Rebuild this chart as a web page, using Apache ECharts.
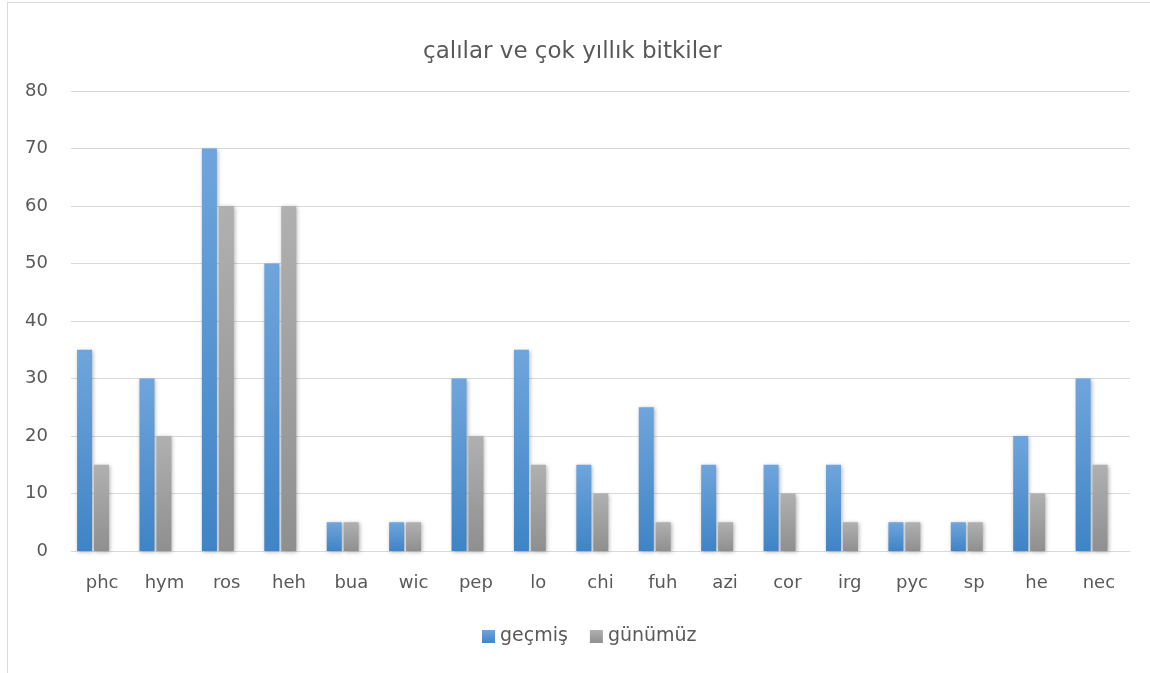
<!DOCTYPE html>
<html>
<head>
<meta charset="utf-8">
<script src="https://cdn.jsdelivr.net/npm/echarts@6/dist/echarts.min.js"></script>
<style>
  html, body { margin: 0; padding: 0; background: #fff; }
  #frame { position: absolute; left: 7px; top: 2px; width: 1160px; height: 690px; border: 1px solid #d9d9d9; box-sizing: border-box; }
  #chart { position: absolute; left: 0; top: 0; width: 1150px; height: 673px; }
</style>
</head>
<body>
<div id="frame"></div>
<div id="chart"></div>
<script>
const categories = ['phc', 'hym', 'ros', 'heh', 'bua', 'wic', 'pep', 'lo', 'chi', 'fuh', 'azi', 'cor', 'irg', 'pyc', 'sp', 'he', 'nec'];
const gecmis = [35, 30, 70, 50, 5, 5, 30, 35, 15, 25, 15, 15, 15, 5, 5, 20, 30];
const gunumuz = [15, 20, 60, 60, 5, 5, 20, 15, 10, 5, 5, 10, 5, 5, 5, 10, 15];
const yTicks = { min: 0, max: 80, interval: 10 };

const font = '"DejaVu Sans", "Noto Sans", sans-serif';
const textColor = '#595959';

function grad(topColor, bottomColor) {
  return new echarts.graphic.LinearGradient(0, 0, 0, 1, [
    { offset: 0, color: topColor },
    { offset: 1, color: bottomColor }
  ]);
}

const barStyle = (topColor, bottomColor) => ({
  color: grad(topColor, bottomColor),
  shadowBlur: 4,
  shadowColor: 'rgba(0,0,0,0.3)',
  shadowOffsetX: 1,
  shadowOffsetY: 1
});

const legendIcon = (topColor, bottomColor) => ({
  color: grad(topColor, bottomColor),
  borderWidth: 0,
  shadowBlur: 0,
  shadowColor: 'transparent',
  shadowOffsetX: 0,
  shadowOffsetY: 0
});

// Grid 0 carries the visible axes, labels and gridlines; grid 1 carries the bars,
// whose category slots sit slightly left of the label slots.
const plotTop = 91, plotBottom = 122;

const chart = echarts.init(document.getElementById('chart'), null, { renderer: 'canvas' });
chart.setOption({
  animation: false,
  title: {
    text: 'çalılar ve çok yıllık bitkiler',
    left: 418,
    top: 36,
    textStyle: { fontFamily: font, fontSize: 23, fontWeight: 'normal', color: textColor }
  },
  legend: {
    bottom: 22,
    left: 477,
    itemWidth: 13,
    itemHeight: 13,
    itemGap: 22,
    textStyle: { fontFamily: font, fontSize: 19, color: textColor },
    data: [
      { name: 'geçmiş', icon: 'rect', itemStyle: legendIcon('#6fa5dc', '#3f84c6') },
      { name: 'günümüz', icon: 'rect', itemStyle: legendIcon('#b0b0b0', '#8f8f8f') }
    ]
  },
  grid: [
    { left: 71, right: 20, top: plotTop, bottom: plotBottom },
    { left: 61.85, right: 27.2, top: plotTop, bottom: plotBottom }
  ],
  xAxis: [
    {
      type: 'category',
      gridIndex: 0,
      data: categories,
      axisTick: { show: false },
      axisLine: { lineStyle: { color: '#d9d9d9', width: 1 } },
      axisLabel: { fontFamily: font, fontSize: 18, color: textColor, margin: 23 }
    },
    {
      type: 'category',
      gridIndex: 1,
      data: categories,
      show: false
    }
  ],
  yAxis: [
    {
      type: 'value',
      gridIndex: 0,
      min: yTicks.min,
      max: yTicks.max,
      interval: yTicks.interval,
      axisLine: { show: false },
      axisTick: { show: false },
      splitLine: { lineStyle: { color: '#d9d9d9', width: 1 } },
      axisLabel: { fontFamily: font, fontSize: 18, color: textColor, margin: 23 }
    },
    {
      type: 'value',
      gridIndex: 1,
      min: yTicks.min,
      max: yTicks.max,
      interval: yTicks.interval,
      show: false,
      splitLine: { show: false }
    }
  ],
  series: [
    {
      name: 'geçmiş',
      type: 'bar',
      xAxisIndex: 1,
      yAxisIndex: 1,
      data: gecmis,
      barWidth: 15,
      barGap: '13%',
      itemStyle: barStyle('#6fa5dc', '#3f84c6')
    },
    {
      name: 'günümüz',
      type: 'bar',
      xAxisIndex: 1,
      yAxisIndex: 1,
      data: gunumuz,
      barWidth: 15,
      itemStyle: barStyle('#b0b0b0', '#8f8f8f')
    }
  ]
});
</script>
</body>
</html>
